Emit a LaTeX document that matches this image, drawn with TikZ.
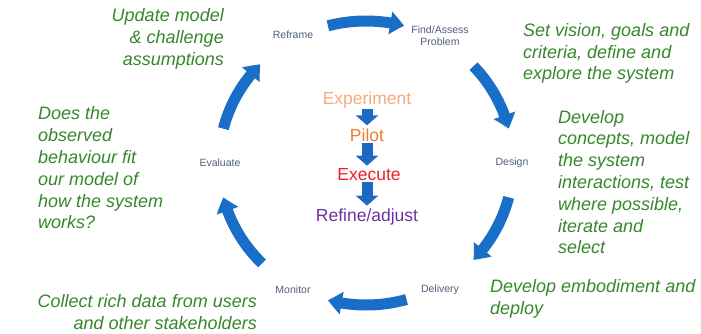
\documentclass[tikz,border=0pt]{standalone}
\usepackage{fontspec}
\setmainfont{Liberation Sans}
\usetikzlibrary{arrows.meta,bending}
\definecolor{arrowblue}{RGB}{25,110,200}
\definecolor{notegreen}{RGB}{55,135,45}
\definecolor{labelslate}{RGB}{80,95,125}
\definecolor{expcol}{RGB}{244,172,125}
\definecolor{pilotcol}{RGB}{237,125,49}
\definecolor{execcol}{RGB}{235,30,40}
\definecolor{refcol}{RGB}{112,48,160}
\definecolor{smallarrow}{RGB}{30,105,195}
\begin{document}
\begin{tikzpicture}[x=1pt,y=1pt,
  note/.style={text=notegreen, font=\fontsize{18}{21.8}\selectfont\itshape, inner sep=0pt},
  stage/.style={text=labelslate, font=\fontsize{10.5}{12}\selectfont, inner sep=0pt, align=center},
  mode/.style={font=\fontsize{17.5}{20}\selectfont, inner sep=0pt},
  cyclearrow/.style={draw=arrowblue, line width=11pt, -{Triangle[width=22pt,length=14pt,bend]}},
  downarrow/.style={draw=smallarrow, line width=11pt, -{Triangle[width=22pt,length=10pt]}, shorten <=1pt, shorten >=3pt}]
\fill[white] (0,0) rectangle (701,333);
\useasboundingbox (0,0) rectangle (701,333);

% centre of the cycle
\coordinate (C) at (366,170);

% stage labels
\node[stage] (reframe) at (293,298) {Reframe};
\node[stage] (find) at (440,297) {Find/Assess\\Problem};
\node[stage] (design) at (512,170) {Design};
\node[stage] (delivery) at (440,43) {Delivery};
\node[stage] (monitor) at (293,43) {Monitor};
\node[stage] (evaluate) at (220,170) {Evaluate};

% cycle arrows
\coordinate (a1s) at ([shift={(105:147pt and 142pt)}]C);
\coordinate (a2s) at ([shift={(43:147pt and 142pt)}]C);
\coordinate (a3s) at ([shift={(-14:147pt and 142pt)}]C);
\coordinate (a4s) at ([shift={(-74:147pt and 142pt)}]C);
\coordinate (a5s) at ([shift={(225:147pt and 142pt)}]C);
\coordinate (a6s) at ([shift={(166:147pt and 142pt)}]C);
\draw[cyclearrow] (a1s) arc[start angle=105, end angle=75, x radius=147pt, y radius=142pt];
\draw[cyclearrow] (a2s) arc[start angle=43, end angle=14, x radius=147pt, y radius=142pt];
\draw[cyclearrow] (a3s) arc[start angle=-14, end angle=-43, x radius=147pt, y radius=142pt];
\draw[cyclearrow] (a4s) arc[start angle=-74, end angle=-105, x radius=147pt, y radius=142pt];
\draw[cyclearrow] (a5s) arc[start angle=225, end angle=194, x radius=147pt, y radius=142pt];
\draw[cyclearrow] (a6s) arc[start angle=166, end angle=136, x radius=147pt, y radius=142pt];

% centre sequence
\node[mode, text=expcol] (exp) at (367,233) {Experiment};
\node[mode, text=pilotcol] (pilot) at (367,198) {Pilot};
\node[mode, text=execcol] (exec) at (369,158) {Execute};
\node[mode, text=refcol] (refine) at (367,116) {Refine/adjust};
\draw[downarrow] (exp.south) -- (pilot.north);
\draw[downarrow] (pilot.south) -- (pilot.south |- exec.north);
\draw[downarrow] (exec.south -| refine.north) -- (refine.north);

% notes
\node[note, anchor=east, align=right] (n1) at (224,294) {Update model\\\& challenge\\assumptions};
\node[note, anchor=west, align=left] (n2) at (523,279.5) {Set vision, goals and\\criteria, define and\\explore the system};
\node[note, anchor=west, align=left] (n3) at (558,151) {Develop\\concepts, model\\the system\\interactions, test\\where possible,\\iterate and\\select};
\node[note, anchor=west, align=left] (n4) at (490,34) {Develop embodiment and\\deploy};
\node[note, anchor=east, align=right] (n5) at (257,21) {Collect rich data from users\\and other stakeholders};
\node[note, anchor=west, align=left] (n6) at (38,165) {Does the\\observed\\behaviour fit\\our model of\\how the system\\works?};
\end{tikzpicture}
\end{document}
